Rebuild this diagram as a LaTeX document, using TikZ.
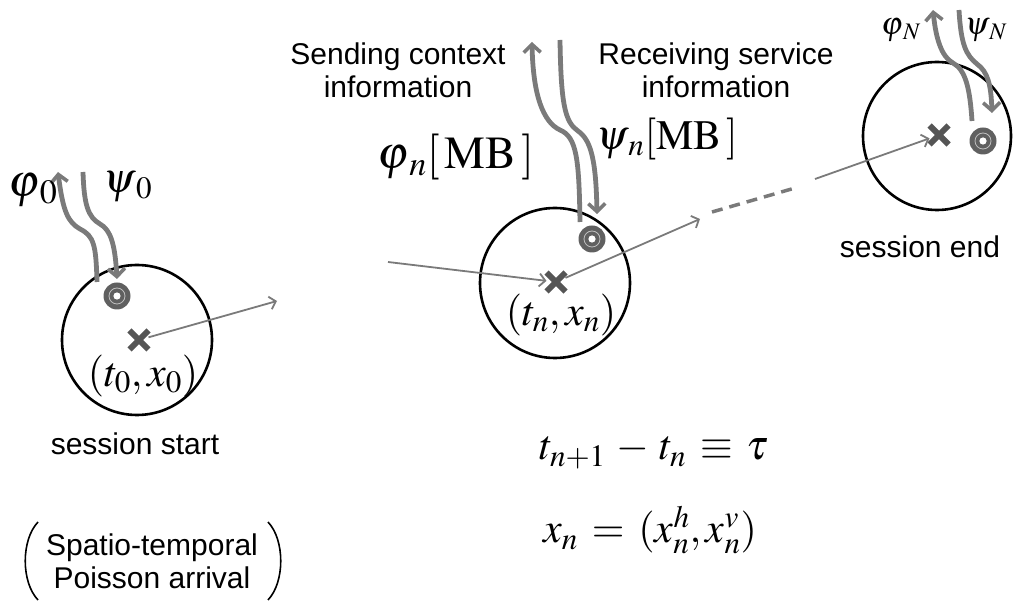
\documentclass[tikz,border=0pt]{standalone}
\usepackage{mathptmx}
\usepackage[no-math]{fontspec}
\setmainfont{Liberation Sans}
\usetikzlibrary{arrows.meta,shapes.misc}
\definecolor{arrowgray}{HTML}{7A7A7A}
\definecolor{markgray}{HTML}{555555}
\definecolor{targetgray}{HTML}{606060}
\begin{document}
\begin{tikzpicture}[x=1pt,y=-1pt,
  zone/.style={circle,draw=black,line width=2.6pt,minimum size=150pt,inner sep=0pt},
  crossmark/.style={cross out,draw=markgray,line width=6pt,minimum size=13pt,inner sep=0pt},
  targetmark/.style={circle,fill=targetgray,minimum size=27pt,inner sep=0pt,
     path picture={\draw[gray!50,line width=0.8pt] (path picture bounding box.center) circle (8pt);
                   \fill[white] (path picture bounding box.center) circle (3.6pt);}},
  flow/.style={draw=arrowgray,line width=4.8pt,-{Straight Barb[length=8pt,width=17pt,line width=3.6pt]}},
  move/.style={draw=arrowgray,line width=1.8pt,-{Straight Barb[length=6pt,width=13pt]}},
  trail/.style={draw=arrowgray,line width=3.5pt,dash pattern=on 11pt off 7pt},
  lbl/.style={font=\fontsize{30}{33}\selectfont,align=center,inner sep=0pt},
  mth/.style={font=\fontsize{42}{46}\selectfont,inner sep=0pt},
  mthl/.style={font=\fontsize{46}{50}\selectfont,inner sep=0pt},
  mths/.style={font=\fontsize{32}{36}\selectfont,inner sep=0pt},
  paren/.style={draw=black,line width=1.6pt}
]
\useasboundingbox (0,0) rectangle (1013,601);

% zones
\node[zone] (c0) at (137,340) {};
\node[zone] (cn) at (555,283) {};
\node[zone,minimum size=148pt] (cN) at (937,136) {};

% positions (crosses)
\node[crossmark] (p0) at (139,340) {};
\node[crossmark] (pn) at (556,282) {};
\node[crossmark] (pN) at (939,135) {};

% terminals (targets)
\node[targetmark] (r0) at (117,296) {};
\node[targetmark] (rn) at (592,239) {};
\node[targetmark] (rN) at (983,141) {};

% movement arrows
\coordinate (m0) at (277,301);
\coordinate (in) at (388,262);
\coordinate (mn) at (700,219);
\coordinate (d1) at (712,212);
\coordinate (d2) at (795,188);
\coordinate (sN) at (815,179);
\draw[move] (p0) -- (m0);
\draw[move] (in) -- (pn);
\draw[move] (pn) -- (mn);
\draw[trail] (d1) -- (d2);
\draw[move] (sN) -- (pN);

% flows
\coordinate (f0s) at (97,282);  \coordinate (f0e) at (58,172);
\coordinate (g0s) at (83,172);  \coordinate (g0e) at (117,279);
\draw[flow] (f0s) .. controls (96,245) and (94,236) .. (80,229) .. controls (68,222) and (63,212) .. (f0e);
\draw[flow] (g0s) .. controls (84,205) and (88,217) .. (100,224) .. controls (111,230) and (115,245) .. (g0e);

\coordinate (fns) at (580,222); \coordinate (fne) at (532,42);
\coordinate (gns) at (560,40);  \coordinate (gne) at (597,214);
\draw[flow] (fns) .. controls (579,160) and (577,137) .. (560,130) .. controls (543,122) and (533,95) .. (fne);
\draw[flow] (gns) .. controls (561,105) and (565,122) .. (578,131) .. controls (591,140) and (596,160) .. (gne);

\coordinate (fNs) at (972,121); \coordinate (fNe) at (933,10);
\coordinate (gNs) at (959,10);  \coordinate (gNe) at (992,113);
\draw[flow] (fNs) .. controls (970,90) and (966,70) .. (953,63) .. controls (942,57) and (936,40) .. (fNe);
\draw[flow] (gNs) .. controls (961,45) and (966,55) .. (977,64) .. controls (988,72) and (991,85) .. (gNe);

% math labels
\node[mthl] (lphi0) at (33,190) {$\varphi_{\,0}$};
\node[mth] (lpsi0) at (128,187) {$\psi_{\,0}$};
\node[mthl] (lphin) at (456,157) {$\varphi_{\,n}[\,\mathrm{MB}\,]$};
\node[mth] (lpsin) at (667,139) {$\psi_{\,n}[\mathrm{MB}\,]$};
\node[mths] (lphiN) at (901,30) {$\varphi_{\,N}$};
\node[mths] (lpsiN) at (986,30) {$\psi_{\,N}$};
\node[mth] (tx0) at (143,376) {$(t_0,x_0)$};
\node[mth] (txn) at (561,315) {$(t_n,x_n)$};
\node[mth] (eq1) at (654,452) {$t_{n+1}\,-\,t_n\,\equiv\,\tau$};
\node[mth] (eq2) at (650,530) {$x_n\,=\,(x_n^h,x_n^v)$};

% text labels
\node[lbl] (send) at (398,70) {Sending context\\information};
\node[lbl] (recv) at (716,70) {Receiving service\\information};
\node[lbl] (start) at (135,444) {session start};
\node[lbl] (end) at (920,247) {session end};
\node[lbl] (arr) at (152,561) {Spatio-temporal\\Poisson arrival};
\draw[paren] (38,522) .. controls (21,540) and (21,582) .. (38,600);
\draw[paren] (268,522) .. controls (285,540) and (285,582) .. (268,600);
\end{tikzpicture}
\end{document}
